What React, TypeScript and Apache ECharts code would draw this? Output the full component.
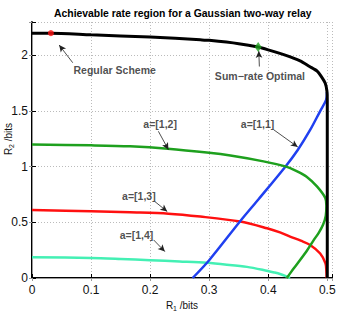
import React, { useEffect, useRef } from "react";
import * as echarts from "echarts";

// ---- data (R1, R2 in bits) ----
const outerR1 = [0, 0.032, 0.1, 0.2, 0.285, 0.3, 0.35, 0.383, 0.4, 0.43, 0.454, 0.47, 0.4825, 0.49, 0.4966, 0.4994, 0.5, 0.5, 0.5];
const outerR2 = [2.2, 2.2, 2.185, 2.165, 2.14, 2.135, 2.105, 2.075, 2.05, 2.0, 1.95, 1.9, 1.86, 1.81, 1.75, 1.68, 1.6, 0.8, 0];

const a12R1 = [0, 0.1, 0.166, 0.23, 0.3, 0.336, 0.392, 0.429, 0.449, 0.465, 0.4825, 0.4966, 0.4985, 0.4975, 0.493, 0.486, 0.477, 0.466, 0.454, 0.443, 0.433, 0.431];
const a12R2 = [1.2, 1.192, 1.183, 1.162, 1.125, 1.1, 1.048, 1.003, 0.958, 0.91, 0.823, 0.72, 0.65, 0.56, 0.48, 0.41, 0.34, 0.25, 0.162, 0.085, 0.012, 0];

const a11R1 = [0.272, 0.3, 0.3525, 0.384, 0.429, 0.45, 0.471, 0.488, 0.498, 0.4995];
const a11R2 = [0, 0.16, 0.51, 0.71, 1.0, 1.15, 1.33, 1.5, 1.6, 1.67];

const a13R1 = [0, 0.1, 0.166, 0.231, 0.285, 0.3525, 0.398, 0.42, 0.437, 0.455, 0.471, 0.488, 0.497, 0.4985, 0.499];
const a13R2 = [0.61, 0.6, 0.59, 0.578, 0.552, 0.507, 0.447, 0.41, 0.372, 0.335, 0.297, 0.22, 0.132, 0.06, 0];

const a14R1 = [0, 0.1, 0.15, 0.2, 0.25, 0.296, 0.33, 0.364, 0.392, 0.41, 0.42, 0.432, 0.437];
const a14R2 = [0.186, 0.18, 0.171, 0.16, 0.148, 0.136, 0.12, 0.1, 0.072, 0.05, 0.036, 0.012, 0];

const regularPoint = [0.032, 2.2];
const sumRatePoint = [0.383, 2.075];

const xTicks = [0, 0.1, 0.2, 0.3, 0.4, 0.5];
const yTicks = [0, 0.5, 1, 1.5, 2];

// annotations: label, text position, arrow start, arrow end
const annoTexts = ["Regular Scheme", "Sum\u2212rate Optimal", "a=[1,2]", "a=[1,1]", "a=[1,3]", "a=[1,4]"];
const annoTextAt = [[0.14, 1.865], [0.386, 1.813], [0.217, 1.387], [0.382, 1.387], [0.181, 0.739], [0.177, 0.387]];
const annoFrom = [[0.069, 1.934], [0.385, 1.9], [0.214, 1.318], [0.409, 1.333], [0.208, 0.687], [0.206, 0.342]];
const annoTo = [[0.046, 2.093], [0.384, 2.04], [0.231, 1.153], [0.45, 1.177], [0.229, 0.597], [0.225, 0.237]];

const zip = (a: number[], b: number[]) => a.map((v, i) => [v, b[i]]);

const FONT = "Liberation Sans, Arial, Helvetica, sans-serif";

export default function App() {
  const ref = useRef<HTMLDivElement>(null);
  useEffect(() => {
    document.body.style.margin = "0";
    const chart = echarts.init(ref.current!, null, { renderer: "svg" });
    const isTick = (v: number, ticks: number[]) => ticks.some((t) => Math.abs(t - v) < 1e-6);
    const fmt = (ticks: number[]) => (v: number) => (isTick(v, ticks) ? String(+v.toFixed(1)) : "");
    const curve = (name: string, r1: number[], r2: number[], color: string, width: number) => ({
      name,
      type: "line",
      data: zip(r1, r2),
      smooth: 0.3,
      showSymbol: false,
      symbol: "none",
      lineStyle: { color, width },
      z: 3,
    });
    chart.setOption({
      animation: false,
      textStyle: { fontFamily: FONT },
      title: {
        text: "Achievable rate region for a Gaussian two-way relay",
        left: 49,
        top: 3,
        textStyle: { fontSize: 10.4, fontWeight: "bold", color: "#000", fontFamily: FONT },
      },
      grid: { left: 32, right: 12, top: 22, bottom: 41, containLabel: false, outerBoundsMode: "none" },
      xAxis: [
        {
          type: "value",
          min: 0,
          max: 0.508,
          interval: 0.1,
          position: "bottom",
          axisLine: { show: true, lineStyle: { color: "#000", width: 2 } },
          axisTick: { show: true, inside: true, length: 4, lineStyle: { color: "#000" } },
          axisLabel: { formatter: fmt(xTicks), fontSize: 12, color: "#111", margin: 6 },
          splitLine: { show: true, lineStyle: { color: "#bbb", type: [1, 2], width: 1 } },
          name: "{a|R}{s|1}{a| /bits}",
          nameLocation: "middle",
          nameGap: 21,
          nameMoveOverlap: false,
          nameTextStyle: {
            rich: {
              a: { fontSize: 10, color: "#111", fontFamily: FONT },
              s: { fontSize: 7, color: "#111", verticalAlign: "bottom", padding: [6, 0, 0, 0], fontFamily: FONT },
            },
          },
        },
        {
          type: "value",
          min: 0,
          max: 0.508,
          interval: 0.1,
          position: "top",
          axisLine: { show: true, lineStyle: { color: "#999", width: 1 } },
          axisTick: { show: true, inside: true, length: 3, lineStyle: { color: "#999" } },
          axisLabel: { show: false },
          splitLine: { show: false },
        },
      ],
      yAxis: [
        {
          type: "value",
          min: 0,
          max: 2.3,
          interval: 0.5,
          position: "left",
          axisLine: { show: true, lineStyle: { color: "#000", width: 2 } },
          axisTick: { show: true, inside: true, length: 4, lineStyle: { color: "#000" } },
          axisLabel: { formatter: fmt(yTicks), fontSize: 12, color: "#111", margin: 4 },
          splitLine: { show: true, lineStyle: { color: "#bbb", type: [1, 2], width: 1 } },
          name: "{a|R}{s|2}{a| /bits}",
          nameLocation: "middle",
          nameGap: 17,
          nameRotate: 90,
          nameMoveOverlap: false,
          nameTextStyle: {
            padding: [0, 0, 0, 22],
            rich: {
              a: { fontSize: 10, color: "#111", fontFamily: FONT },
              s: { fontSize: 7, color: "#111", verticalAlign: "bottom", padding: [6, 0, 0, 0], fontFamily: FONT },
            },
          },
        },
        {
          type: "value",
          min: 0,
          max: 2.3,
          interval: 0.5,
          position: "right",
          axisLine: { show: true, lineStyle: { color: "#999", width: 1 } },
          axisTick: { show: true, inside: true, length: 3, lineStyle: { color: "#999" } },
          axisLabel: { show: false },
          splitLine: { show: false },
        },
      ],
      series: [
        curve("a=[1,4]", a14R1, a14R2, "#44f0b4", 2.5),
        curve("a=[1,3]", a13R1, a13R2, "#ff1010", 2.5),
        curve("a=[1,1]", a11R1, a11R2, "#2040f0", 2.5),
        curve("a=[1,2]", a12R1, a12R2, "#1ea01e", 2.5),
        {
          ...curve("outer", outerR1, outerR2, "#000", 3),
          smooth: 0.25,
          markLine: {
            silent: true,
            symbol: ["none", "arrow"],
            symbolSize: [5, 7],
            label: { show: false },
            lineStyle: { color: "#222", width: 0.8, type: "solid" },
            data: annoFrom.map((f, i) => [{ coord: f }, { coord: annoTo[i] }]),
          },
        },
        {
          name: "regular",
          type: "scatter",
          data: [regularPoint],
          symbol: "circle",
          symbolSize: 6,
          itemStyle: { color: "#ff1010" },
          z: 5,
        },
        {
          name: "sumrate",
          type: "scatter",
          data: [sumRatePoint],
          symbol: "diamond",
          symbolSize: [7, 10],
          itemStyle: { color: "#1ea01e" },
          z: 5,
        },
        {
          name: "labels",
          type: "scatter",
          symbolSize: 1,
          itemStyle: { color: "rgba(0,0,0,0)" },
          data: annoTexts.map((t, i) => ({ value: annoTextAt[i], name: t })),
          label: {
            show: true,
            position: "inside",
            formatter: (p: any) => p.name,
            fontSize: 10.5,
            fontWeight: "bold",
            color: "#222",
            fontFamily: FONT,
          },
          z: 6,
        },
      ],
    });
    return () => chart.dispose();
  }, []);
  return <div ref={ref} style={{ width: 344, height: 319 }} />;
}
